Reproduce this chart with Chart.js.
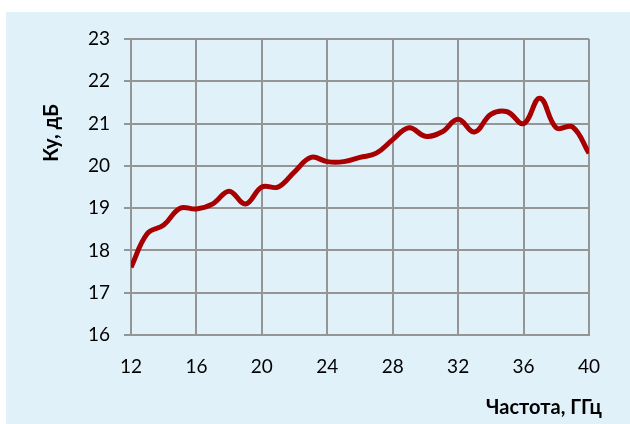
<!DOCTYPE html>
<html>
<head>
<meta charset="utf-8">
<script src="https://cdn.jsdelivr.net/npm/chart.js@4/dist/chart.umd.min.js"></script>
<style>
  html, body { margin: 0; padding: 0; background: #ffffff; }
  #wrap { position: absolute; left: 6px; top: 12px; width: 624px; height: 412px; background: #e1f1fa; }
  canvas { position: absolute; left: 0; top: 0; }
</style>
</head>
<body>
<div id="wrap"><canvas id="grafik" width="624" height="412"></canvas></div>
<script>
// Частота, ГГц
const chastota = [12, 13, 14, 15, 16, 17, 18, 19, 20, 21, 22, 23, 24, 25, 26,
                  27, 28, 29, 30, 31, 32, 33, 34, 35, 36, 37, 38, 39, 40];
// Ку, дБ
const usilenie = [17.6, 18.4, 18.6, 19.0, 18.98, 19.1, 19.4, 19.1, 19.5, 19.5, 19.86, 20.2, 20.1, 20.1, 20.2,
                  20.3, 20.62, 20.9, 20.7, 20.8, 21.1, 20.8, 21.22, 21.28, 21.0, 21.6, 20.9, 20.92, 20.3];
const ticksX = [12, 16, 20, 24, 28, 32, 36, 40];
const ticksY = [16, 17, 18, 19, 20, 21, 22, 23];

const GRIS = '#959595';

// подписи осей рисуем сами, чтобы поставить их как в оригинале
const podpisiOsej = {
  id: 'podpisiOsej',
  afterDraw(chart) {
    const c = chart.ctx;
    c.save();
    c.fillStyle = '#000000';
    c.font = 'bold 20px Lato';
    c.textAlign = 'center';
    c.textBaseline = 'middle';
    c.translate(46, 121);
    c.rotate(-Math.PI / 2);
    c.fillText('Ку, дБ', 0, 0);
    c.restore();

    c.save();
    c.fillStyle = '#000000';
    c.font = 'bold 20px Lato';
    c.textAlign = 'center';
    c.textBaseline = 'middle';
    c.fillText('Частота, ГГц', 538, 396);
    c.restore();
  }
};

new Chart(document.getElementById('grafik'), {
  type: 'line',
  data: {
    datasets: [{
      data: chastota.map((x, i) => ({ x, y: usilenie[i] })),
      borderColor: '#a80000',
      borderWidth: 5,
      pointRadius: 0,
      tension: 0.4,
      fill: false,
    }],
  },
  options: {
    responsive: false,
    animation: false,
    events: [],
    layout: { padding: { left: 0, top: 27, right: 41, bottom: 0 } },
    plugins: { legend: { display: false }, tooltip: { enabled: false } },
    scales: {
      x: {
        type: 'linear',
        min: 12,
        max: 40,
        afterBuildTicks: s => { s.ticks = ticksX.map(v => ({ value: v })); },
        afterFit: s => { s.height = 412 - 323; },
        grid: { color: GRIS, lineWidth: 2, drawTicks: false },
        border: { color: GRIS, width: 2 },
        ticks: { color: '#000000', font: { family: 'Lato', size: 19 }, padding: 20, maxRotation: 0 },
      },
      y: {
        min: 16,
        max: 23,
        afterBuildTicks: s => { s.ticks = ticksY.map(v => ({ value: v })); },
        afterFit: s => { s.width = 125; },
        grid: { color: GRIS, lineWidth: 2, tickLength: 7 },
        border: { color: GRIS, width: 2 },
        ticks: { color: '#000000', font: { family: 'Lato', size: 19 }, padding: 14 },
      },
    },
  },
  plugins: [podpisiOsej],
});
</script>
</body>
</html>
